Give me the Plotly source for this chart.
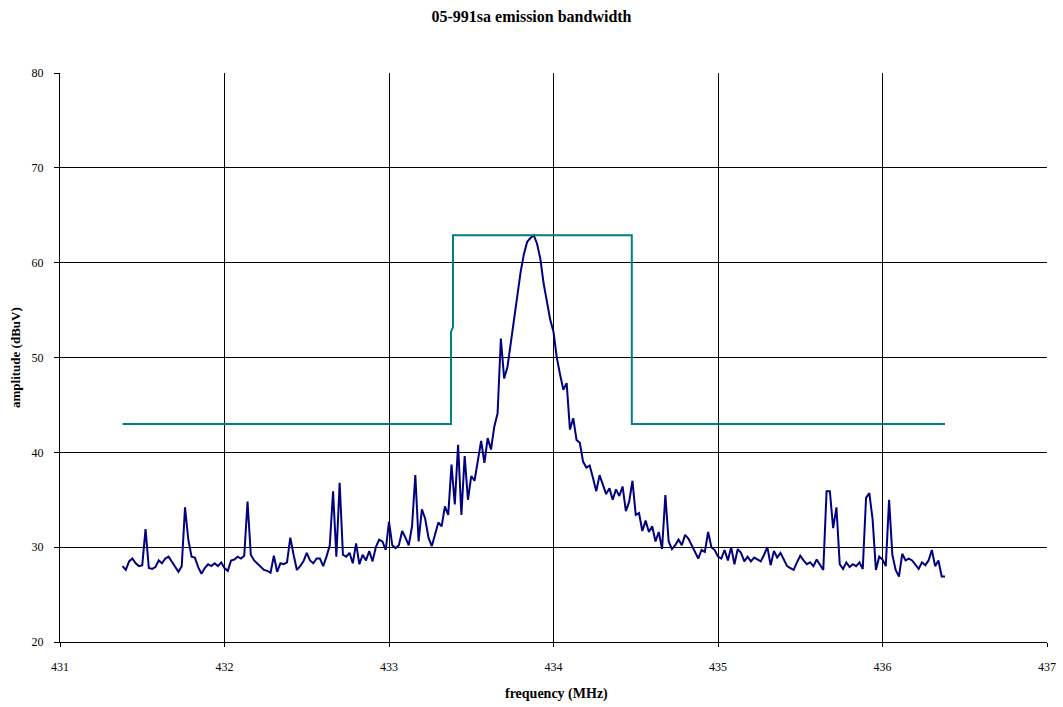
import numpy as np
import plotly.graph_objects as go

# sweep of the measured trace (MHz)
sweep_start = 431.38
sweep_stop = 436.38

amplitude = [
    28.0, 27.6, 28.5, 28.8, 28.3, 28.0, 28.1, 31.9, 27.8, 27.7,
    27.9, 28.6, 28.3, 28.8, 29.0, 28.5, 28.0, 27.4, 28.0, 34.2,
    30.8, 29.0, 28.9, 27.9, 27.2, 27.8, 28.2, 28.0, 28.3, 28.0,
    28.4, 27.8, 27.5, 28.6, 28.7, 29.0, 28.8, 29.1, 34.8, 29.2,
    28.6, 28.3, 28.0, 27.6, 27.5, 27.3, 29.1, 27.4, 28.3, 28.2,
    28.4, 31.0, 29.2, 27.6, 28.0, 28.5, 29.4, 28.6, 28.3, 28.8,
    28.8, 28.0, 29.0, 30.2, 35.9, 29.0, 36.8, 29.2, 29.0, 29.4,
    28.3, 30.4, 28.2, 29.2, 28.6, 29.6, 28.5, 30.0, 30.8, 30.6,
    29.7, 32.7, 30.2, 29.9, 30.2, 31.7, 31.0, 30.2, 32.2, 37.6,
    30.6, 34.0, 33.0, 31.0, 30.1, 31.5, 32.6, 32.2, 34.3, 33.4,
    38.7, 34.5, 40.8, 33.4, 39.6, 35.0, 37.5, 37.0, 39.2, 41.2,
    38.9, 41.5, 40.3, 42.7, 44.1, 52.0, 47.8, 49.0, 51.5, 54.0,
    56.0, 59.0, 60.9, 62.2, 62.6, 62.9, 62.0, 60.4, 57.8, 56.0,
    54.0, 52.7, 50.0, 48.2, 46.6, 47.3, 42.4, 43.6, 41.3, 41.0,
    39.0, 38.4, 38.6, 37.3, 35.9, 37.6, 36.5, 35.6, 36.2, 35.0,
    36.1, 35.4, 36.4, 33.8, 34.8, 37.0, 33.4, 33.6, 31.7, 32.8,
    31.6, 32.2, 30.6, 31.6, 29.8, 35.5, 30.6, 29.8, 30.2, 30.8,
    30.2, 31.3, 30.9, 30.2, 29.5, 28.8, 29.7, 29.5, 31.6, 30.0,
    29.7, 29.0, 28.8, 29.7, 28.6, 30.0, 28.2, 29.8, 29.4, 28.5,
    29.0, 28.5, 28.9, 28.7, 28.5, 29.2, 30.0, 28.1, 29.6, 28.9,
    29.4, 28.7, 28.0, 27.8, 27.6, 28.4, 29.1, 28.6, 28.2, 28.4,
    28.0, 28.7, 28.2, 27.6, 35.9, 35.9, 32.0, 34.2, 28.2, 27.7,
    28.4, 27.9, 28.2, 28.0, 28.4, 27.7, 35.2, 35.7, 32.9, 27.6,
    29.0, 28.7, 28.0, 35.0, 29.2, 27.6, 26.9, 29.3, 28.6, 28.8,
    28.6, 28.2, 27.7, 28.4, 28.1, 28.6, 29.7, 28.0, 28.6, 26.9,
    26.9,
]

# emission mask (limit line)
mask_freq = [431.38, 433.377, 433.377, 433.389, 433.389, 434.476, 434.476, 436.38]
mask_db = [43.0, 43.0, 52.7, 53.2, 62.9, 62.9, 43.0, 43.0]

x_ticks = [431, 432, 433, 434, 435, 436, 437]
y_ticks = [20, 30, 40, 50, 60, 70, 80]

freq = np.linspace(sweep_start, sweep_stop, len(amplitude))

fig = go.Figure()
fig.add_trace(go.Scatter(x=freq, y=amplitude, mode="lines",
                         line=dict(color="#000080", width=2), name="trace"))
fig.add_trace(go.Scatter(x=mask_freq, y=mask_db, mode="lines",
                         line=dict(color="#008080", width=2), name="mask"))

font = "Liberation Serif, Times New Roman, serif"
W, H = 1063, 707
L, R, T, B = 60, 16, 73, 65
fig.update_layout(
    width=W, height=H,
    margin=dict(l=L, r=R, t=T, b=B, autoexpand=False),
    paper_bgcolor="white", plot_bgcolor="white",
    showlegend=False,
    font=dict(family=font, size=12, color="black"),
    title=dict(text="<b>05-991sa emission bandwidth</b>", x=0.5, xanchor="center",
               y=1 - 16 / H, yanchor="middle", font=dict(size=16, family=font)),
)
fig.update_xaxes(range=[431, 437], tickvals=x_ticks, ticktext=[str(v) for v in x_ticks],
                 showgrid=True, gridcolor="black", gridwidth=1,
                 showline=True, linecolor="black", linewidth=1,
                 ticks="outside", ticklen=4, tickcolor="black", zeroline=False,
                 tickfont=dict(size=12, family=font), automargin=False,
                 ticklabelstandoff=10)
fig.update_yaxes(range=[20, 80], tickvals=y_ticks,
                 showgrid=True, gridcolor="black", gridwidth=1,
                 showline=True, linecolor="black", linewidth=1,
                 ticks="outside", ticklen=5, tickcolor="black", zeroline=False,
                 tickfont=dict(size=12, family=font), automargin=False,
                 ticklabelstandoff=8)
fig.add_annotation(text="<b>frequency (MHz)</b>", xref="paper", yref="paper",
                   x=(556 - L) / (W - L - R), y=-(694 - (H - B)) / (H - T - B),
                   xanchor="center", yanchor="middle", showarrow=False,
                   font=dict(size=14, family=font))
fig.add_annotation(text="<b>amplitude (dBuV)</b>", xref="paper", yref="paper",
                   x=-(L - 15) / (W - L - R), y=(H - B - 358) / (H - T - B),
                   xanchor="center", yanchor="middle", textangle=-90, showarrow=False,
                   font=dict(size=13, family=font))

fig.write_html("out.html",
               config={"displayModeBar": False},
               post_script="document.body.style.margin='0';document.body.style.overflow='hidden';")
